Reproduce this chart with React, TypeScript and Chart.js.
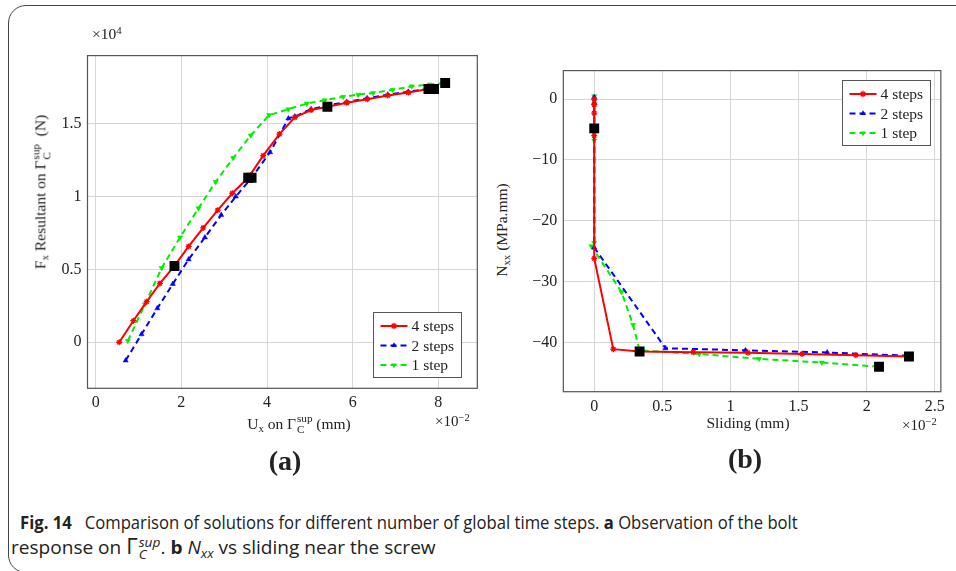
import React, { useEffect, useRef } from 'react';
import { Chart, registerables } from 'chart.js';
Chart.register(...registerables);

// ---------- Panel (a): Fx resultant vs Ux (x in 1e-2 mm, y in 1e4 N) ----------
const A_X_TICKS = [0, 2, 4, 6, 8];
const A_Y_TICKS = [0, 0.5, 1, 1.5];
const A_RED_X = [0.55, 0.88, 1.19, 1.5, 1.84, 2.17, 2.51, 2.85, 3.19, 3.56, 3.91, 4.29, 4.65, 5.03, 5.41, 5.86, 6.34, 6.82, 7.3, 7.77];
const A_RED_Y = [0.0, 0.148, 0.279, 0.404, 0.524, 0.658, 0.785, 0.907, 1.023, 1.129, 1.281, 1.429, 1.544, 1.594, 1.617, 1.644, 1.669, 1.694, 1.714, 1.739];
const A_BLUE_X = [0.7, 1.07, 1.44, 1.8, 2.17, 2.55, 2.93, 3.27, 3.64, 4.07, 4.5, 4.65, 5.03, 5.41, 5.86, 6.34, 6.82, 7.3, 7.9];
const A_BLUE_Y = [-0.125, 0.055, 0.233, 0.4, 0.569, 0.72, 0.873, 1.0, 1.129, 1.304, 1.537, 1.55, 1.6, 1.625, 1.65, 1.675, 1.7, 1.72, 1.745];
const A_GREEN_X = [0.75, 1.15, 1.54, 1.97, 2.4, 2.8, 3.21, 3.62, 4.05, 4.5, 4.93, 5.35, 5.78, 6.13, 6.48, 6.93, 7.38, 7.8, 8.16];
const A_GREEN_Y = [0.01, 0.26, 0.51, 0.72, 0.92, 1.1, 1.265, 1.42, 1.56, 1.6, 1.639, 1.662, 1.685, 1.7, 1.712, 1.733, 1.757, 1.77, 1.78];
const A_SQ_X = [1.84, 3.56, 3.64, 5.41, 7.77, 7.9, 8.16];
const A_SQ_Y = [0.524, 1.129, 1.129, 1.617, 1.739, 1.739, 1.78];

// ---------- Panel (b): Nxx vs sliding (x in 1e-2 mm) ----------
const B_X_TICKS = [0, 0.5, 1, 1.5, 2, 2.5];
const B_Y_TICKS = [0, -10, -20, -30, -40];
const B_RED_X = [0, 0, 0, 0, 0, 0, 0.14, 0.333, 0.727, 1.128, 1.525, 1.92, 2.31];
const B_RED_Y = [0, -0.9, -2.3, -4.8, -6.0, -26.2, -41.1, -41.5, -41.6, -41.7, -41.9, -42.1, -42.3];
const B_BLUE_X = [0, 0, 0, 0.523, 1.11, 1.71, 2.31];
const B_BLUE_Y = [0.3, -0.6, -24.4, -40.95, -41.3, -41.65, -42.2];
const B_GREEN_X = [0, 0, 0, 0, 0, -0.02, 0.2, 0.285, 0.333, 0.771, 1.21, 1.67, 2.09];
const B_GREEN_Y = [0.5, -0.3, -1.0, -6.8, -23.6, -24.2, -31.7, -37.1, -41.3, -41.9, -42.7, -43.3, -44.0];
const B_SQ_X = [0, 0.333, 2.31, 2.09];
const B_SQ_Y = [-4.8, -41.5, -42.3, -44.0];

const SERIES_LABELS = ['4 steps', '2 steps', '1 step'];
const SERIES_COLORS = ['#ff0000', '#0000ff', '#00ee00'];

const SERIF = '"Liberation Serif", "Times New Roman", serif';

const zip = (xs: number[], ys: number[]) => xs.map((x, i) => ({ x, y: ys[i] }));

type Style = { color: string; dash: number[]; marker: string; rot: number };
const STYLES: Style[] = [
  { color: SERIES_COLORS[0], dash: [], marker: 'star', rot: 0 },
  { color: SERIES_COLORS[1], dash: [6, 4], marker: 'triangle', rot: 0 },
  { color: SERIES_COLORS[2], dash: [6, 4], marker: 'triangle', rot: 180 },
];

function drawMarker(ctx: CanvasRenderingContext2D, s: Style, x: number, y: number, r: number) {
  ctx.save();
  ctx.setLineDash([]);
  ctx.fillStyle = s.color;
  ctx.strokeStyle = s.color;
  ctx.lineWidth = 1.3;
  ctx.beginPath();
  if (s.marker === 'star') {
    for (let k = 0; k < 4; k++) {
      const a = (k * Math.PI) / 4;
      ctx.moveTo(x - r * Math.cos(a), y - r * Math.sin(a));
      ctx.lineTo(x + r * Math.cos(a), y + r * Math.sin(a));
    }
    ctx.stroke();
  } else {
    const sgn = s.rot === 180 ? -1 : 1;
    ctx.moveTo(x, y - sgn * r);
    ctx.lineTo(x + r * 0.87, y + sgn * r * 0.5);
    ctx.lineTo(x - r * 0.87, y + sgn * r * 0.5);
    ctx.closePath();
    ctx.fill();
  }
  ctx.restore();
}

type LegendPos = { corner: 'br' | 'tr'; dx: number; dy: number };

function framePlugin(legend: LegendPos) {
  return {
    id: 'frameLegend',
    afterDatasetsDraw(chart: any) {
      const { ctx, chartArea } = chart;
      const { left, top, right, bottom } = chartArea;
      ctx.save();
      ctx.setLineDash([]);
      ctx.strokeStyle = '#555';
      ctx.lineWidth = 1.2;
      ctx.strokeRect(left, top, right - left, bottom - top);
      // legend box
      const w = 88;
      const h = 65;
      const x0 = Math.round(right - legend.dx - w) + 0.5;
      const y0 = legend.corner === 'br' ? Math.round(bottom - legend.dy - h) + 0.5 : Math.round(top + legend.dy) + 0.5;
      ctx.fillStyle = '#fff';
      ctx.fillRect(x0, y0, w, h);
      ctx.strokeStyle = '#555';
      ctx.lineWidth = 1;
      ctx.strokeRect(x0, y0, w, h);
      const rows = [13.5, 33, 52.5];
      ctx.font = `15.5px ${SERIF}`;
      ctx.textBaseline = 'middle';
      ctx.textAlign = 'left';
      SERIES_LABELS.forEach((lab, i) => {
        const s = STYLES[i];
        const yy = y0 + rows[i];
        ctx.save();
        ctx.strokeStyle = s.color;
        ctx.lineWidth = 2;
        ctx.setLineDash(s.dash);
        ctx.beginPath();
        ctx.moveTo(x0 + 7, yy);
        ctx.lineTo(x0 + 34, yy);
        ctx.stroke();
        ctx.restore();
        drawMarker(ctx, s, x0 + 20.5, yy, 3.2);
        ctx.fillStyle = '#222';
        ctx.fillText(lab, x0 + 38, yy + 1);
      });
      ctx.restore();
    },
  };
}

type PanelSpec = {
  xTicks: number[];
  yTicks: number[];
  xMin: number;
  xMax: number;
  yMin: number;
  yMax: number;
  series: { x: number[]; y: number[] }[];
  squares: { x: number[]; y: number[] };
  yAxisWidth: number;
  xAxisHeight: number;
  padTop: number;
  padRight: number;
  legend: LegendPos;
};

const fmt = (v: number) => String(v).replace('-', '\u2212');

function makeConfig(p: PanelSpec): any {
  const tickFont = { family: SERIF, size: 16 };
  const datasets: any[] = [
    {
      label: 'marks',
      data: zip(p.squares.x, p.squares.y),
      showLine: false,
      pointStyle: 'rect',
      pointRadius: 7,
      backgroundColor: '#000',
      borderColor: '#000',
      pointBorderWidth: 0,
    },
  ];
  p.series.forEach((s, i) => {
    const st = STYLES[i];
    datasets.push({
      label: SERIES_LABELS[i],
      data: zip(s.x, s.y),
      showLine: true,
      tension: 0,
      borderColor: st.color,
      backgroundColor: st.color,
      borderWidth: 2,
      borderDash: st.dash,
      pointStyle: st.marker === 'star' ? 'star' : 'triangle',
      pointRotation: st.rot,
      pointRadius: 3,
      pointBorderWidth: st.marker === 'star' ? 1.3 : 0.5,
    });
  });
  return {
    type: 'scatter',
    data: { datasets },
    options: {
      animation: false,
      responsive: false,
      maintainAspectRatio: false,
      events: [],
      layout: { padding: { top: p.padTop, right: p.padRight, left: 0, bottom: 0 } },
      plugins: { legend: { display: false }, tooltip: { enabled: false } },
      scales: {
        x: {
          type: 'linear',
          min: p.xMin,
          max: p.xMax,
          afterBuildTicks: (s: any) => {
            s.ticks = p.xTicks.map((v) => ({ value: v }));
          },
          afterFit: (s: any) => {
            s.height = p.xAxisHeight;
          },
          ticks: { font: tickFont, color: '#222', padding: 5, maxRotation: 0, autoSkip: false, callback: (v: number) => fmt(v) },
          grid: { color: '#d6d6d6', lineWidth: 1, drawTicks: false },
          border: { display: false },
        },
        y: {
          type: 'linear',
          min: p.yMin,
          max: p.yMax,
          afterBuildTicks: (s: any) => {
            s.ticks = p.yTicks.map((v) => ({ value: v }));
          },
          afterFit: (s: any) => {
            s.width = p.yAxisWidth;
          },
          ticks: { font: tickFont, color: '#222', padding: 6, autoSkip: false, callback: (v: number) => fmt(v) },
          grid: { color: '#d6d6d6', lineWidth: 1, drawTicks: false },
          border: { display: false },
        },
      },
    },
    plugins: [framePlugin(p.legend)],
  };
}

function Panel({ left, top, width, height, spec }: { left: number; top: number; width: number; height: number; spec: PanelSpec }) {
  const ref = useRef<HTMLCanvasElement | null>(null);
  useEffect(() => {
    if (!ref.current) return;
    const chart = new Chart(ref.current, makeConfig(spec));
    return () => chart.destroy();
  }, []);
  return (
    <canvas
      ref={ref}
      width={width}
      height={height}
      style={{ position: 'absolute', left, top, width, height }}
    />
  );
}

const SPEC_A: PanelSpec = {
  xTicks: A_X_TICKS,
  yTicks: A_Y_TICKS,
  xMin: -0.191,
  xMax: 8.91,
  yMin: -0.316,
  yMax: 1.968,
  series: [
    { x: A_RED_X, y: A_RED_Y },
    { x: A_BLUE_X, y: A_BLUE_Y },
    { x: A_GREEN_X, y: A_GREEN_Y },
  ],
  squares: { x: A_SQ_X, y: A_SQ_Y },
  yAxisWidth: 47.5,
  xAxisHeight: 31.7,
  padTop: 11.7,
  padRight: 7.7,
  legend: { corner: 'br', dx: 16.5, dy: 11 },
};

const SPEC_B: PanelSpec = {
  xTicks: B_X_TICKS,
  yTicks: B_Y_TICKS,
  xMin: -0.227,
  xMax: 2.544,
  yMin: -48.1,
  yMax: 4.7,
  series: [
    { x: B_RED_X, y: B_RED_Y },
    { x: B_BLUE_X, y: B_BLUE_Y },
    { x: B_GREEN_X, y: B_GREEN_Y },
  ],
  squares: { x: B_SQ_X, y: B_SQ_Y },
  yAxisWidth: 43.3,
  xAxisHeight: 33.3,
  padTop: 11,
  padRight: 8.3,
  legend: { corner: 'tr', dx: 10.7, dy: 9.7 },
};

const sub = (t: string, italic = false) => (
  <span style={{ fontSize: '0.7em', verticalAlign: '-0.3em', fontStyle: italic ? 'italic' : 'normal' }}>{t}</span>
);

const Stack = ({ up, down, italic = false }: { up: string; down: string; italic?: boolean }) => (
  <span
    style={{
      display: 'inline-block',
      verticalAlign: '-0.4em',
      fontSize: '0.72em',
      lineHeight: '0.95em',
      marginLeft: '0.08em',
      textAlign: 'left',
      fontStyle: italic ? 'italic' : 'normal',
    }}
  >
    <span style={{ display: 'block' }}>{up}</span>
    <span style={{ display: 'block' }}>{down}</span>
  </span>
);

const abs = (x: number, y: number, extra: React.CSSProperties = {}): React.CSSProperties => ({
  position: 'absolute',
  left: x,
  top: y,
  whiteSpace: 'nowrap',
  fontFamily: SERIF,
  color: '#222',
  lineHeight: 1,
  ...extra,
});

const CAPTION_FONT = '"Open Sans", "Noto Sans", sans-serif';

export default function App() {
  return (
    <div style={{ position: 'absolute', left: 0, top: 0, width: 956, height: 571, overflow: 'hidden', background: '#fff' }}>
      <div
        style={{
          position: 'absolute',
          left: 8,
          top: 5,
          width: 1000,
          height: 568,
          border: '1.5px solid #444',
          borderRadius: 18,
          boxSizing: 'border-box',
        }}
      />
      <Panel left={40} top={40} width={445} height={380} spec={SPEC_A} />
      <Panel left={520} top={55} width={430} height={370} spec={SPEC_B} />

      {/* panel a texts */}
      <div style={abs(92, 25, { fontSize: 15.5 })}>
        ×10<span style={{ fontSize: '0.7em', verticalAlign: '0.45em' }}>4</span>
      </div>
      <div style={abs(41, 192, { fontSize: 15.5, transform: 'translate(-50%, -50%) rotate(-90deg)' })}>
        F{sub('x')} Resultant on Γ<Stack up="sup" down="C" />&nbsp;&nbsp;(N)
      </div>
      <div style={abs(299, 424, { fontSize: 15.5, transform: 'translate(-50%, -50%)' })}>
        U{sub('x')} on Γ<Stack up="sup" down="C" /> (mm)
      </div>
      <div style={abs(435, 413, { fontSize: 15 })}>
        ×10<span style={{ fontSize: '0.7em', verticalAlign: '0.45em' }}>−2</span>
      </div>
      <div style={abs(285, 461, { fontSize: 28, fontWeight: 'bold', transform: 'translate(-50%, -50%)' })}>(a)</div>

      {/* panel b texts */}
      <div style={abs(503, 230, { fontSize: 15.5, transform: 'translate(-50%, -50%) rotate(-90deg)' })}>
        N{sub('xx')} (MPa.mm)
      </div>
      <div style={abs(748, 423, { fontSize: 15.5, transform: 'translate(-50%, -50%)' })}>Sliding (mm)</div>
      <div style={abs(902, 417, { fontSize: 15 })}>
        ×10<span style={{ fontSize: '0.7em', verticalAlign: '0.45em' }}>−2</span>
      </div>
      <div style={abs(745, 459, { fontSize: 28, fontWeight: 'bold', transform: 'translate(-50%, -50%)' })}>(b)</div>

      {/* caption */}
      <div
        style={{
          position: 'absolute',
          left: 20,
          top: 510,
          fontFamily: CAPTION_FONT,
          fontSize: 18.5,
          color: '#222',
          whiteSpace: 'nowrap',
          lineHeight: '24px',
          transformOrigin: '0 0',
          transform: 'scaleX(0.9)',
        }}
      >
        <b>Fig. 14</b>&nbsp;&nbsp;&nbsp;Comparison of solutions for different number of global time steps. <b>a</b> Observation of the bolt
      </div>
      <div
        style={{
          position: 'absolute',
          left: 11,
          top: 534,
          fontFamily: CAPTION_FONT,
          fontSize: 18.5,
          color: '#222',
          whiteSpace: 'nowrap',
          lineHeight: '24px',
          transformOrigin: '0 0',
          transform: 'scaleX(1.03)',
        }}
      >
        response on <span style={{ fontSize: '1.15em' }}>Γ</span>
        <Stack up="sup" down="C" italic />. <b>b</b> <i>N</i>
        <span style={{ fontSize: '0.7em', verticalAlign: '-0.3em', fontStyle: 'italic' }}>xx</span> vs sliding near the screw
      </div>
    </div>
  );
}
